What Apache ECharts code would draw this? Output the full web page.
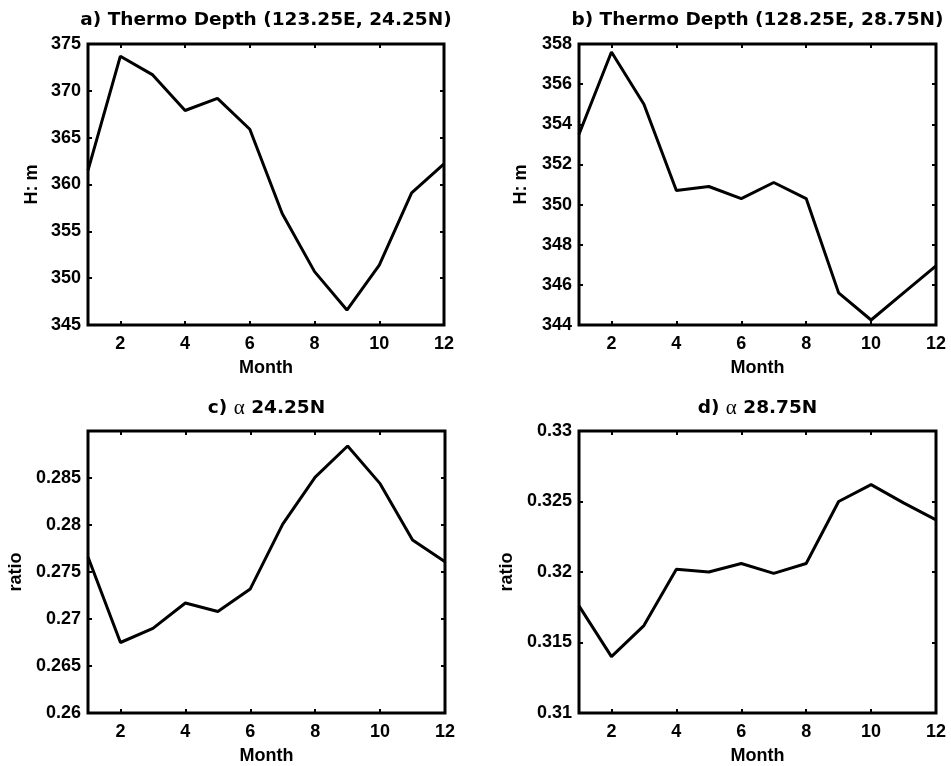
<!DOCTYPE html>
<html>
<head>
<meta charset="utf-8">
<style>
  html, body { margin: 0; padding: 0; background: #fff; }
  #main { width: 951px; height: 766px; }
</style>
<script src="https://cdn.jsdelivr.net/npm/echarts@6/dist/echarts.min.js"></script>
</head>
<body>
<div id="main"></div>
<script>
// monthly values
var months = [1, 2, 3, 4, 5, 6, 7, 8, 9, 10, 11, 12];
var monthTicks = [2, 4, 6, 8, 10, 12];
var depthA = [361.5, 373.7, 371.7, 367.9, 369.2, 365.9, 356.9, 350.7, 346.6, 351.4, 359.1, 362.2];
var depthB = [353.5, 357.6, 355.0, 350.7, 350.9, 350.3, 351.1, 350.3, 345.6, 344.25, 345.6, 346.95];
var alphaC = [0.2766, 0.2675, 0.2690, 0.2717, 0.2708, 0.2732, 0.2801, 0.2851, 0.2884, 0.2844, 0.2784, 0.2761];
var alphaD = [0.3176, 0.3140, 0.3162, 0.3202, 0.3200, 0.3206, 0.3199, 0.3206, 0.3250, 0.3262, 0.3249, 0.3237];

var panels = [
  {title: 'a) Thermo Depth (123.25E, 24.25N)', ylabel: 'H: m', data: depthA, min: 345, max: 375, step: 5,
   left: 88, top: 44, width: 356, height: 281, yGap: 47},
  {title: 'b) Thermo Depth (128.25E, 28.75N)', ylabel: 'H: m', data: depthB, min: 344, max: 358, step: 2,
   left: 579, top: 44, width: 357, height: 281, yGap: 49},
  {title: 'c) {g|α} 24.25N', ylabel: 'ratio', data: alphaC, min: 0.26, max: 0.29, step: 0.005, hideMax: true,
   left: 88, top: 431, width: 357, height: 282, yGap: 63},
  {title: 'd) {g|α} 28.75N', ylabel: 'ratio', data: alphaD, min: 0.31, max: 0.33, step: 0.005,
   left: 579, top: 431, width: 357, height: 282, yGap: 63}
];

var labelFont = {color: '#000', fontFamily: 'Liberation Sans', fontWeight: 'bold', fontSize: 18};
var tick = {show: true, inside: true, length: 4, lineStyle: {color: '#000', width: 2}};

var option = {
  backgroundColor: '#fff',
  animation: false,
  title: [], grid: [], xAxis: [], yAxis: [], series: []
};

panels.forEach(function (p, i) {
  option.title.push({
    text: p.title,
    left: p.left + p.width / 2,
    top: p.top - 33,
    textAlign: 'center',
    padding: 0,
    textStyle: {
      color: '#000', fontFamily: 'DejaVu Sans', fontWeight: 'bold', fontSize: 18.5,
      rich: {g: {fontFamily: 'Liberation Serif', fontWeight: 'normal', fontSize: 21, color: '#000'}}
    }
  });
  option.grid.push({
    left: p.left, top: p.top, width: p.width, height: p.height,
    show: true, borderColor: '#000', borderWidth: 3, backgroundColor: 'transparent'
  });
  // bottom axis with labels
  option.xAxis.push({
    type: 'value', gridIndex: i, min: 1, max: 12, position: 'bottom',
    name: 'Month', nameLocation: 'middle', nameGap: 34, nameTextStyle: labelFont,
    axisLine: {show: false},
    axisTick: Object.assign({customValues: monthTicks}, tick),
    axisLabel: Object.assign({customValues: monthTicks, margin: 10}, labelFont),
    splitLine: {show: false}
  });
  // top axis, ticks only
  option.xAxis.push({
    type: 'value', gridIndex: i, min: 1, max: 12, position: 'top',
    axisLine: {show: false},
    axisTick: Object.assign({customValues: monthTicks}, tick),
    axisLabel: {show: false},
    splitLine: {show: false}
  });
  option.yAxis.push({
    type: 'value', gridIndex: i, min: p.min, max: p.max, interval: p.step, position: 'left',
    name: p.ylabel, nameLocation: 'middle', nameGap: p.yGap, nameRotate: 90, nameTextStyle: labelFont,
    axisLine: {show: false},
    axisTick: tick,
    axisLabel: Object.assign({margin: 7, showMaxLabel: !p.hideMax}, labelFont),
    splitLine: {show: false}
  });
  option.yAxis.push({
    type: 'value', gridIndex: i, min: p.min, max: p.max, interval: p.step, position: 'right',
    axisLine: {show: false},
    axisTick: tick,
    axisLabel: {show: false},
    splitLine: {show: false}
  });
  option.series.push({
    type: 'line',
    xAxisIndex: i * 2,
    yAxisIndex: i * 2,
    symbol: 'none',
    lineStyle: {color: '#000', width: 3},
    data: months.map(function (m, k) { return [m, p.data[k]]; })
  });
});

var chart = echarts.init(document.getElementById('main'));
chart.setOption(option);
</script>
</body>
</html>
